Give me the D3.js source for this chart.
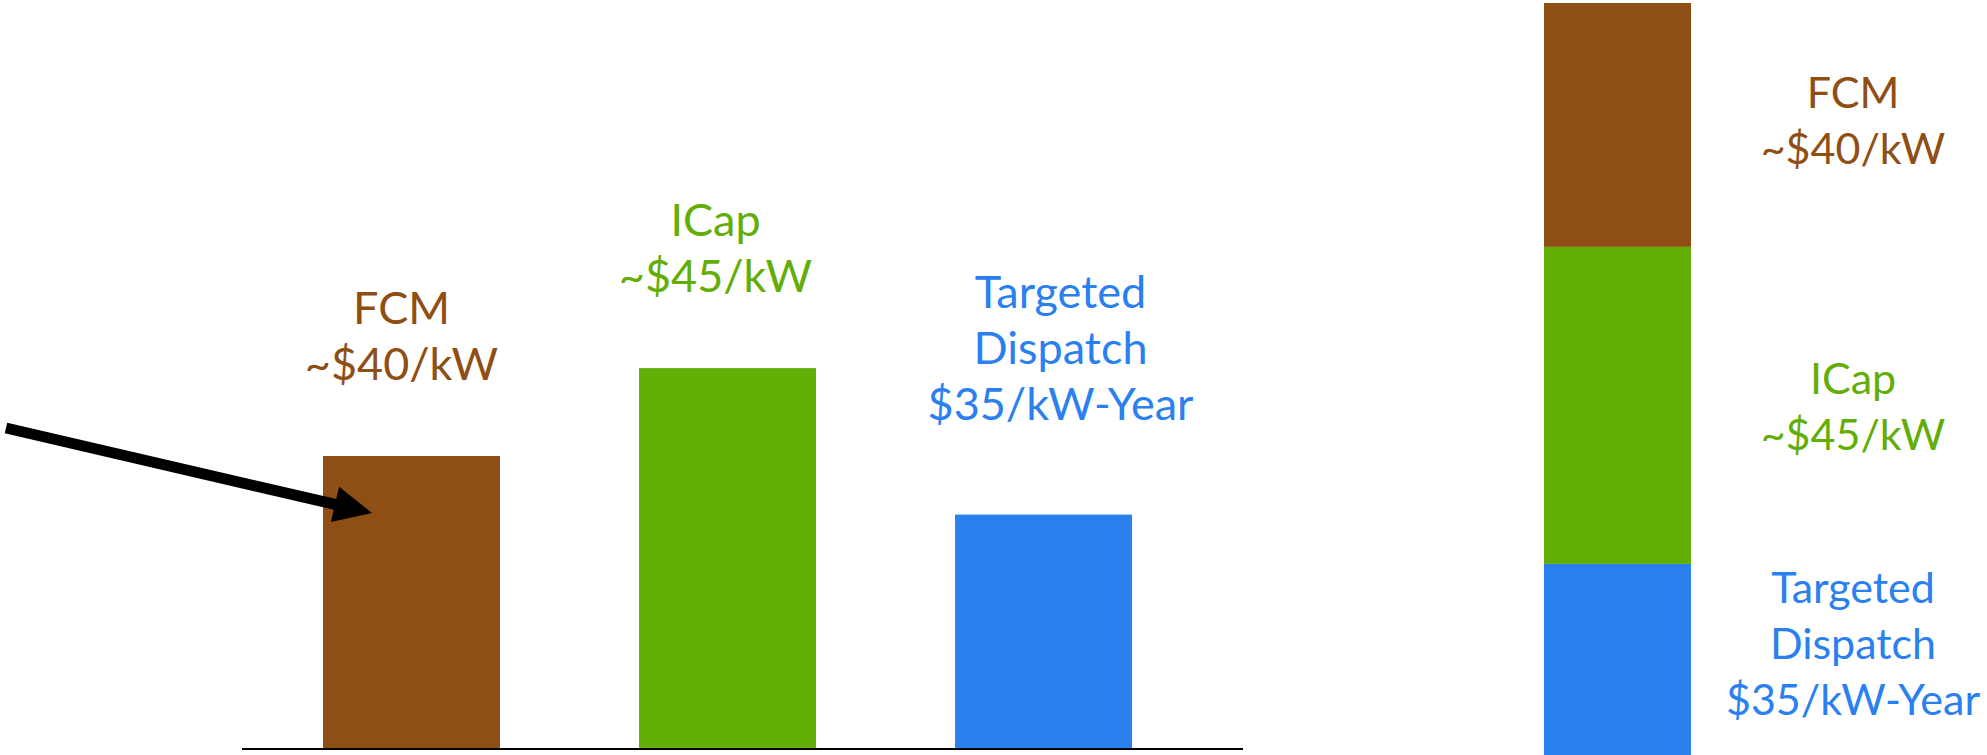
<!DOCTYPE html>
<html>
<head>
<meta charset="utf-8">
<script src="https://cdn.jsdelivr.net/npm/d3@7"></script>
<style>
  html, body { margin: 0; padding: 0; background: #ffffff; }
  svg { display: block; }
  text { font-family: Lato, "Open Sans", sans-serif; }
</style>
</head>
<body>
<div id="chart"></div>
<script>
// values (bar heights in the same relative unit)
const categories = ["FCM", "ICap", "Targeted Dispatch"];
const barValues = [40, 52, 32];
const labelLines = [
    ["FCM", "~$40/kW"],
    ["ICap", "~$45/kW"],
    ["Targeted", "Dispatch", "$35/kW-Year"]
];
const barColors = ["#8f4e13", "#62ae07", "#2a80ef"];

const width = 1987, height = 755;
const fontSize = 45, lineH = 56;

const svg = d3.select("#chart")
    .append("svg")
    .attr("width", width)
    .attr("height", height);

// ---- left: side by side bars ----
const x = d3.scaleBand()
    .domain(categories)
    .range([165, 1290])
    .paddingInner(0.44)
    .paddingOuter(0.5);

const y = d3.scaleLinear()
    .domain([0, 60])
    .range([749, 749 - 60 * 7.325]);

svg.append("g")
    .selectAll("rect")
    .data(categories)
    .join("rect")
    .attr("x", d => x(d))
    .attr("y", (d, i) => y(barValues[i]))
    .attr("width", x.bandwidth())
    .attr("height", (d, i) => y(0) - y(barValues[i]))
    .attr("fill", (d, i) => barColors[i]);

// base line
svg.append("line")
    .attr("x1", 242)
    .attr("x2", 1243)
    .attr("y1", y(0))
    .attr("y2", y(0))
    .attr("stroke", "#000")
    .attr("stroke-width", 2);

// labels above bars (text boxes sit a bit off-centre in the original)
const shiftX = [-10, -12, 17];
const shiftY = [0, 0, -19];
categories.forEach((c, i) => {
    let lines = labelLines[i];
    let lastBase = y(barValues[i]) - 76 + shiftY[i];
    let t = svg.append("text")
        .attr("text-anchor", "middle")
        .attr("fill", barColors[i])
        .style("font-size", fontSize + "px");
    lines.forEach((l, j) => {
        t.append("tspan")
            .attr("x", x(c) + x.bandwidth() / 2 + shiftX[i])
            .attr("y", lastBase - (lines.length - 1 - j) * lineH)
            .text(l);
    });
});

// arrow pointing at the FCM bar
let tipX = x("FCM") + 49, tipY = y(barValues[0]) + 57;
let ang = Math.atan2(85, 364);
svg.append("line")
    .attr("x1", 6)
    .attr("y1", 428)
    .attr("x2", tipX - 30 * Math.cos(ang))
    .attr("y2", tipY - 30 * Math.sin(ang))
    .attr("stroke", "#000")
    .attr("stroke-width", 11);
(function () {
    let len = 38, hw = 18;
    let bx = tipX - len * Math.cos(ang), by = tipY - len * Math.sin(ang);
    let px = -Math.sin(ang) * hw, py = Math.cos(ang) * hw;
    svg.append("path")
        .attr("d", "M" + tipX + "," + tipY +
            " L" + (bx + px) + "," + (by + py) +
            " L" + (bx - px) + "," + (by - py) + " Z")
        .attr("fill", "#000");
})();

// ---- right: stacked column ----
const stackKeys = categories.slice().reverse();
const row = {};
categories.forEach((c, i) => row[c] = barValues[i]);
const series = d3.stack().keys(stackKeys)([row]);

const ys = d3.scaleLinear()
    .domain([0, d3.sum(barValues)])
    .range([759, 3]);

svg.append("g")
    .selectAll("rect")
    .data(series)
    .join("rect")
    .attr("x", 1544)
    .attr("width", 147)
    .attr("y", d => ys(d[0][1]))
    .attr("height", d => ys(d[0][0]) - ys(d[0][1]))
    .attr("fill", d => barColors[categories.indexOf(d.key)]);

const stackShift = {"FCM": -3, "ICap": 3, "Targeted Dispatch": -14};
series.forEach(s => {
    let i = categories.indexOf(s.key);
    let lines = labelLines[i];
    let top = ys(s[0][1]), bot = Math.min(ys(s[0][0]), height);
    let mid = (top + bot) / 2 + stackShift[s.key];
    let first = mid - (lines.length - 1) * lineH / 2 + 14;
    let t = svg.append("text")
        .attr("text-anchor", "middle")
        .attr("fill", barColors[i])
        .style("font-size", "43px");
    lines.forEach((l, j) => {
        t.append("tspan")
            .attr("x", 1853)
            .attr("y", first + j * lineH)
            .text(l);
    });
});
</script>
</body>
</html>
